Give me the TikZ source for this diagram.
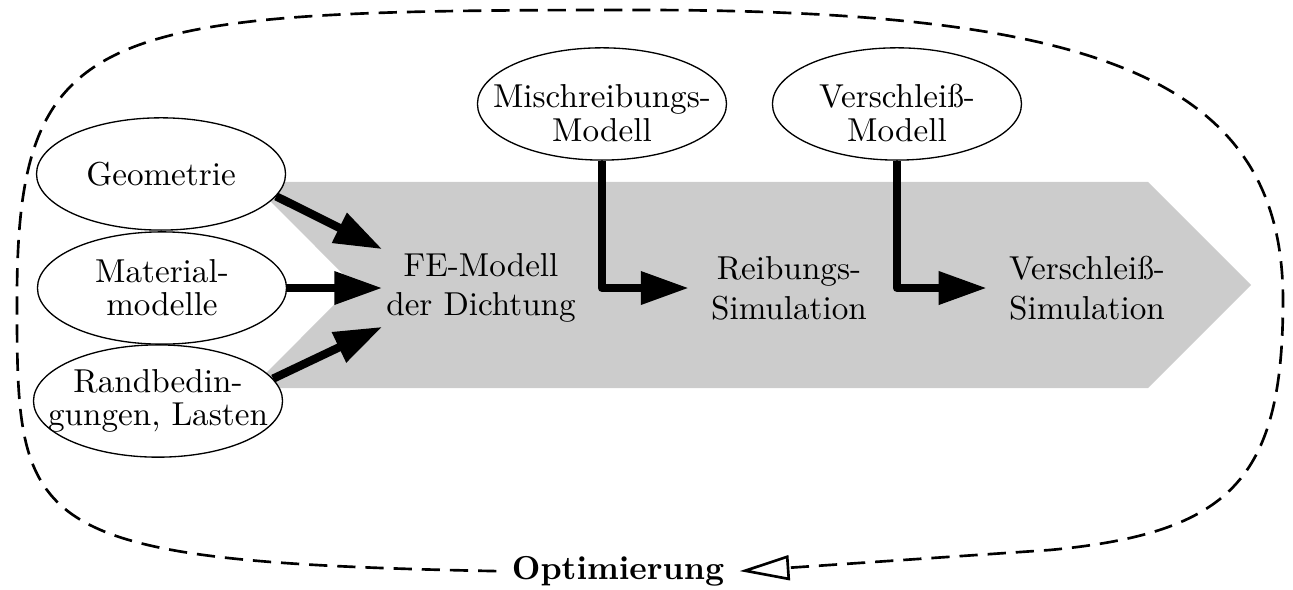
\documentclass[tikz,border=0pt]{standalone}
\usepackage{tikz}
\usetikzlibrary{arrows.meta,shapes.geometric}
\tikzset{
  input/.style={ellipse, draw, fill=white, minimum width=2.64cm, minimum height=1.19cm,
    inner sep=-1cm, align=center, font={\fontsize{10}{10}\selectfont}},
  model/.style={input, text height=22.5pt},
  stage/.style={align=center, inner sep=6.5pt},
  flow/.style={line width=2.5pt, line join=round, -{Triangle[length=14.5pt,width=9.5pt]}},
  loopline/.style={thick, dash pattern=on 5.5pt off 3pt, -{Triangle[open,length=15pt,width=7.5pt]}}
}
\begin{document}
\begin{tikzpicture}
        \pgfmathsetmacro{\halfheight}{1.092}
        \useasboundingbox (0,0) rectangle (13.706,6.254);
        \fill [black!20] (2.661,{3.233+\halfheight}) -- (12.169,{3.233+\halfheight}) -- (13.261,3.233)
            -- (12.169,{3.233-\halfheight}) -- (2.661,{3.233-\halfheight}) -- (3.752,3.233) -- cycle;
        \node [input] (geo) at (1.707, 4.410) {Geometrie};
        \node [input] (mat) at (1.717, 3.201) {Material-\\modelle};
        \node [input] (rand) at (1.675, 2.003) {Randbedin-\\gungen, Lasten};
        \node [model] (misch) at (6.381, 5.152) {Mischreibungs-\\Modell};
        \node [model] (versch) at (9.508, 5.152) {Verschleiß-\\Modell};
        \node [stage, inner sep=1pt] (fe) at (5.099, 3.201) {FE-Modell\\der Dichtung};
        \node [stage] (reib) at (8.363, 3.201) {Reibungs-\\Simulation};
        \node [stage] (vsim) at (11.522, 3.201) {Verschleiß-\\Simulation};
        \node [inner sep=4.5pt] (opt) at (6.551, 0.2) {\textbf{Optimierung}};
        \draw [flow] (geo.-11) -- (fe.north west);
        \draw [flow] (mat.east) -- (fe.west);
        \draw [flow] (rand.11) -- (fe.south west);
        \draw [flow] (misch.south) |- (reib.west);
        \draw [flow] (versch.south) |- (vsim.west);
        \draw [loopline] (opt.west) .. controls (0.212,0.3) and (0.180,0.636) .. (0.180,3.074)
            .. controls (0.180,6.042) and (1.06,6.148) .. (6.784,6.148)
            .. controls (11.66,6.148) and (13.6,5.406) .. (13.6,3.074)
            .. controls (13.6,1.166) and (13.038,0.604) .. (11.13,0.424)
            -- (opt.east);
    \end{tikzpicture}
\end{document}
